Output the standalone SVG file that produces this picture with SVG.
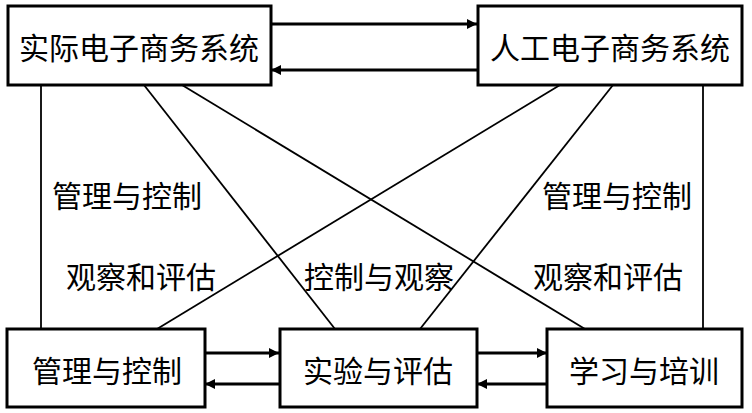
<svg xmlns="http://www.w3.org/2000/svg" width="752" height="413" viewBox="0 0 752 413">
<defs>
<marker id="ah" markerWidth="10" markerHeight="10" refX="10" refY="5" orient="auto" markerUnits="userSpaceOnUse">
<path d="M0,0 L10,5 L0,10 Z" fill="#000"/>
</marker>
<style>
.box{fill:#fff;stroke:#000;stroke-width:3}
.t{font-family:"Noto Sans CJK SC","Noto Sans CJK JP",sans-serif;font-size:30px;fill:#000;text-anchor:middle;dominant-baseline:central}
.ln{stroke:#000;stroke-width:1.8;fill:none}
.ar{stroke:#000;stroke-width:3;fill:none;marker-end:url(#ah)}
</style>
</defs>
<rect width="752" height="413" fill="#fff"/>
<g id="connectors">
<line class="ln" x1="41" y1="85" x2="41" y2="329"/>
<line class="ln" x1="703" y1="85" x2="703" y2="329"/>
<line class="ln" x1="144" y1="85" x2="335" y2="329"/>
<line class="ln" x1="182" y1="85" x2="585" y2="329"/>
<line class="ln" x1="560" y1="85" x2="157" y2="329"/>
<line class="ln" x1="613" y1="85" x2="420" y2="329"/>
<line class="ar" x1="271" y1="24" x2="477" y2="24"/>
<line class="ar" x1="477" y1="70" x2="271" y2="70"/>
<line class="ar" x1="205" y1="353" x2="279" y2="353"/>
<line class="ar" x1="279" y1="384" x2="205" y2="384"/>
<line class="ar" x1="477" y1="353" x2="547" y2="353"/>
<line class="ar" x1="547" y1="384" x2="477" y2="384"/>
</g>
<g id="labels">
<text class="t" x="127" y="194">管理与控制</text>
<text class="t" x="141" y="275">观察和评估</text>
<text class="t" x="379" y="275">控制与观察</text>
<text class="t" x="617" y="194">管理与控制</text>
<text class="t" x="608" y="275">观察和评估</text>
</g>
<g id="node-real">
<rect class="box" x="8" y="6" width="263" height="79"/>
<text class="t" x="139" y="46">实际电子商务系统</text>
</g>
<g id="node-artificial">
<rect class="box" x="478" y="6" width="264" height="79"/>
<text class="t" x="610" y="46">人工电子商务系统</text>
</g>
<g id="node-manage">
<rect class="box" x="7" y="329" width="198" height="78"/>
<text class="t" x="107" y="369">管理与控制</text>
</g>
<g id="node-experiment">
<rect class="box" x="280" y="329" width="197" height="78"/>
<text class="t" x="378" y="369">实验与评估</text>
</g>
<g id="node-learn">
<rect class="box" x="547" y="329" width="195" height="78"/>
<text class="t" x="644" y="369">学习与培训</text>
</g>
</svg>
